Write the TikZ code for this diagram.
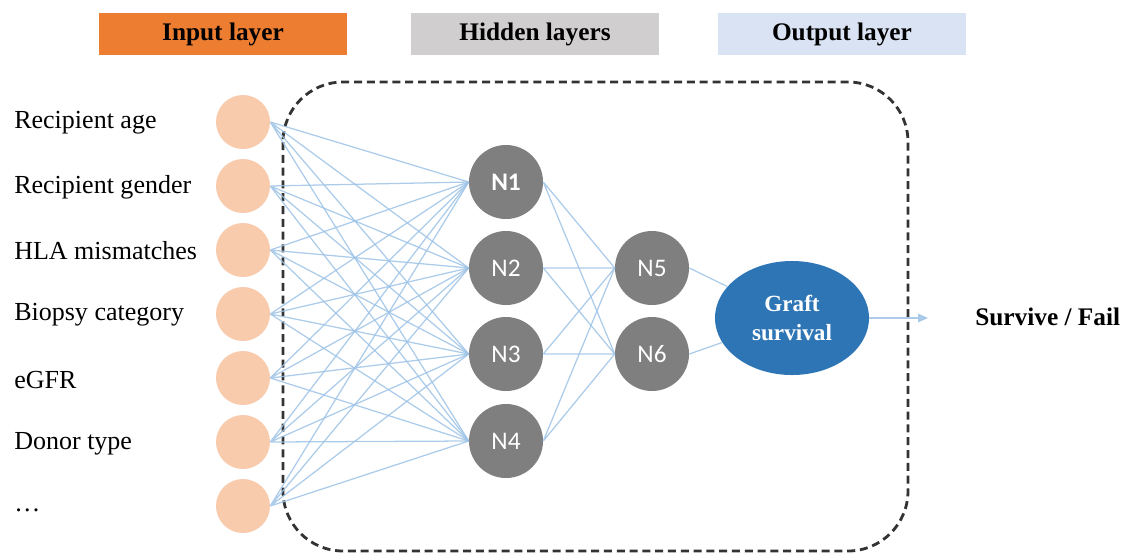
\documentclass[tikz,border=0pt]{standalone}
\usepackage{fontspec}
\setmainfont{Liberation Serif}
\newfontfamily\calfont{Carlito}
\usepackage{xcolor}
\usetikzlibrary{shapes.geometric,arrows.meta}

\definecolor{inorange}{HTML}{ED7D31}
\definecolor{hidgray}{HTML}{D0CECE}
\definecolor{outblue}{HTML}{DAE3F3}
\definecolor{inputfill}{HTML}{F8CBAD}
\definecolor{neurongray}{HTML}{7F7F7F}
\definecolor{graftblue}{HTML}{2E75B6}
\definecolor{wireblue}{HTML}{9DC3E6}

\begin{document}
\begin{tikzpicture}[x=0.025cm, y=-0.025cm,
	inputnode/.style={circle, fill=inputfill, minimum size=1.35cm, inner sep=0pt},
	neuron/.style={circle, fill=neurongray, minimum size=1.85cm, inner sep=0pt, text=white, font=\calfont\fontsize{18}{20}\selectfont},
	feature/.style={anchor=west, inner sep=0pt, font=\fontsize{18.5}{20}\selectfont},
	header/.style={minimum width=6.2cm, minimum height=1.05cm, inner sep=0pt, font=\bfseries\fontsize{18}{20}\selectfont},
	wire/.style={wireblue, opacity=0.85, line width=0.9pt}]
	% Parameters
	\def\inx{243}
	\def\hidx{506}
	\def\secx{652}
	
	\useasboundingbox (0,0) rectangle (1130,555);
	
	%headers
	\node[header, fill=inorange] (hin) at (223,34) {Input layer};
	\node[header, fill=hidgray] (hhid) at (535,34) {Hidden layers};
	\node[header, fill=outblue] (hout) at (842,34) {Output layer};
	
	%frame
	\draw[line width=2pt, black!80, dash pattern=on 0.2cm off 0.12cm, rounded corners=1.5cm] (283,82) rectangle (908,551);
	
	%inputs
	\node[inputnode] (i1) at (\inx,122) {};
	\node[inputnode] (i2) at (\inx,186) {};
	\node[inputnode] (i3) at (\inx,250) {};
	\node[inputnode] (i4) at (\inx,314) {};
	\node[inputnode] (i5) at (\inx,378) {};
	\node[inputnode] (i6) at (\inx,442) {};
	\node[inputnode] (i7) at (\inx,506) {};
	\node[feature] (f1) at (14,123) {Recipient age};
	\node[feature] (f2) at (14,187) {Recipient gender};
	\node[feature] (f3) at (14,251) {HLA mismatches};
	\node[feature] (f4) at (14,315) {Biopsy category};
	\node[feature] (f5) at (14,380) {eGFR};
	\node[feature] (f6) at (14,444) {Donor type};
	\node[feature] (f7) at (14,510) {\dots};
	
	%hidden
	\node[neuron, font=\calfont\bfseries\fontsize{18}{20}\selectfont] (n1) at (\hidx,182) {N1};
	\node[neuron] (n2) at (\hidx,268) {N2};
	\node[neuron] (n3) at (\hidx,354) {N3};
	\node[neuron] (n4) at (\hidx,441) {N4};
	\node[neuron] (n5) at (\secx,268) {N5};
	\node[neuron] (n6) at (\secx,354) {N6};
	
	%output
	\node[ellipse, fill=graftblue, minimum width=3.85cm, minimum height=2.85cm, inner sep=0pt, text=white, align=center, font=\bfseries\fontsize{16.5}{20}\selectfont] (graft) at (792,318) {Graft\\survival};
	\node[anchor=west, inner sep=0pt, font=\bfseries\fontsize{18}{20}\selectfont] (result) at (975,317) {Survive / Fail};
	\coordinate (tip) at (928,318);
	
	%wires
	\draw[wire] (i1.east) -- (n1.west) (i1.east) -- (n2.west) (i1.east) -- (n3.west) (i1.east) -- (n4.west);
	\draw[wire] (i2.east) -- (n1.west) (i2.east) -- (n2.west) (i2.east) -- (n3.west) (i2.east) -- (n4.west);
	\draw[wire] (i3.east) -- (n1.west) (i3.east) -- (n2.west) (i3.east) -- (n3.west) (i3.east) -- (n4.west);
	\draw[wire] (i4.east) -- (n1.west) (i4.east) -- (n2.west) (i4.east) -- (n3.west) (i4.east) -- (n4.west);
	\draw[wire] (i5.east) -- (n1.west) (i5.east) -- (n2.west) (i5.east) -- (n3.west) (i5.east) -- (n4.west);
	\draw[wire] (i6.east) -- (n1.west) (i6.east) -- (n2.west) (i6.east) -- (n3.west) (i6.east) -- (n4.west);
	\draw[wire] (i7.east) -- (n1.west) (i7.east) -- (n2.west) (i7.east) -- (n3.west) (i7.east) -- (n4.west);
	\draw[wire] (n1.east) -- (n5.west) (n1.east) -- (n6.west);
	\draw[wire] (n2.east) -- (n5.west) (n2.east) -- (n6.west);
	\draw[wire] (n3.east) -- (n5.west) (n3.east) -- (n6.west);
	\draw[wire] (n4.east) -- (n5.west) (n4.east) -- (n6.west);
	\draw[wire] (n5.east) -- (graft) (n6.east) -- (graft);
	\draw[wire, -{Triangle[length=7pt, width=6pt]}] (graft.east) -- (tip);
\end{tikzpicture}
\end{document}
